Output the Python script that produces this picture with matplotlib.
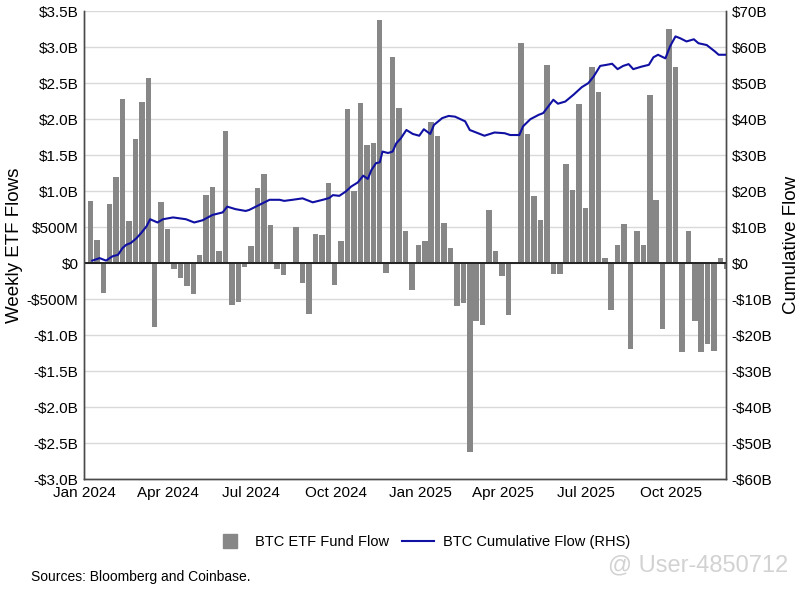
import matplotlib
matplotlib.use("Agg")
import matplotlib.pyplot as plt
import matplotlib.dates as mdates
from matplotlib.lines import Line2D
from matplotlib.ticker import FuncFormatter, MultipleLocator
import pandas as pd

plt.rcParams['font.family'] = ['Liberation Sans', 'DejaVu Sans']

# ---- data (billions USD) ----
first_week = "2024-01-08"
weekly_flows = [
    0.87, 0.32, -0.42, 0.82, 1.19, 2.28, 0.58, 1.72, 2.24, 2.57,
    -0.89, 0.85, 0.48, -0.08, -0.20, -0.32, -0.43, 0.11, 0.95, 1.06,
    0.17, 1.83, -0.58, -0.54, -0.05, 0.24, 1.05, 1.24, 0.53, -0.08,
    -0.17, 0.02, 0.50, -0.28, -0.70, 0.40, 0.39, 1.11, -0.30, 0.31,
    2.14, 1.00, 2.22, 1.64, 1.67, 3.38, -0.14, 2.86, 2.16, 0.45,
    -0.38, 0.25, 0.31, 1.96, 1.77, 0.56, 0.21, -0.59, -0.56, -2.62,
    -0.80, -0.86, 0.74, 0.17, -0.18, -0.72, 0.00, 3.06, 1.80, 0.93,
    0.60, 2.75, -0.15, -0.15, 1.38, 1.01, 2.21, 0.77, 2.72, 2.38,
    0.07, -0.65, 0.25, 0.55, -1.19, 0.44, 0.25, 2.34, 0.88, -0.91,
    3.25, 2.73, -1.23, 0.44, -0.81, -1.23, -1.13, -1.22, 0.07, -0.08,
]

cum_dates = [
    "2024-01-10", "2024-01-18", "2024-01-25", "2024-02-01", "2024-02-07",
    "2024-02-12", "2024-02-16", "2024-02-21", "2024-02-27", "2024-03-03",
    "2024-03-09", "2024-03-13", "2024-03-21", "2024-03-27", "2024-04-07",
    "2024-04-21", "2024-04-30", "2024-05-09", "2024-05-20", "2024-05-31",
    "2024-06-05", "2024-06-14", "2024-06-25", "2024-06-29", "2024-07-10",
    "2024-07-21", "2024-08-01", "2024-08-06", "2024-08-15", "2024-08-26",
    "2024-09-06", "2024-09-17", "2024-09-24", "2024-09-28", "2024-10-05",
    "2024-10-12", "2024-10-18", "2024-10-25", "2024-10-31", "2024-11-05",
    "2024-11-09", "2024-11-14", "2024-11-18", "2024-11-21", "2024-11-27",
    "2024-12-02", "2024-12-06", "2024-12-11", "2024-12-17", "2024-12-24",
    "2024-12-31", "2025-01-05", "2025-01-12", "2025-01-16", "2025-01-25",
    "2025-02-01", "2025-02-08", "2025-02-19", "2025-02-24", "2025-03-05",
    "2025-03-12", "2025-03-23", "2025-04-03", "2025-04-09", "2025-04-19",
    "2025-04-23", "2025-05-01", "2025-05-10", "2025-05-15", "2025-05-21",
    "2025-05-26", "2025-05-31", "2025-06-08", "2025-06-17", "2025-06-26",
    "2025-07-03", "2025-07-09", "2025-07-16", "2025-07-23", "2025-07-29",
    "2025-08-04", "2025-08-10", "2025-08-16", "2025-08-21", "2025-08-30",
    "2025-09-07", "2025-09-12", "2025-09-17", "2025-09-25", "2025-09-30",
    "2025-10-06", "2025-10-11", "2025-10-18", "2025-10-26", "2025-10-31",
    "2025-11-09", "2025-11-18", "2025-11-22", "2025-11-30",
]
cum_values = [
    0.7, 1.4, 0.7, 1.9, 2.3, 4.2, 5.1, 5.6, 6.9, 8.3,
    10.2, 12.2, 11.3, 12.2, 12.7, 12.2, 11.3, 11.9, 13.4, 14.1,
    15.7, 15.0, 14.5, 14.8, 16.2, 17.6, 17.6, 17.3, 17.6, 18.0,
    16.9, 17.6, 18.1, 18.9, 18.7, 19.9, 21.3, 22.4, 24.3, 23.4,
    25.9, 27.8, 28.0, 31.0, 30.6, 31.0, 33.3, 34.7, 37.0, 35.9,
    35.4, 37.2, 35.9, 38.4, 40.3, 40.9, 40.7, 39.4, 37.0, 36.1,
    35.4, 36.3, 36.1, 35.6, 35.6, 38.0, 40.0, 41.2, 41.7, 43.7,
    45.4, 44.3, 44.9, 46.8, 48.9, 50.0, 51.9, 54.8, 55.1, 55.4,
    53.9, 54.8, 55.3, 53.9, 54.6, 55.1, 57.2, 57.9, 56.9, 60.2,
    63.0, 62.5, 61.6, 62.2, 61.1, 60.6, 58.8, 57.9, 57.9,
]

x_ticks = ["2024-01-01", "2024-04-01", "2024-07-01", "2024-10-01",
           "2025-01-01", "2025-04-01", "2025-07-01", "2025-10-01"]
x_tick_labels = ["Jan 2024", "Apr 2024", "Jul 2024", "Oct 2024",
                 "Jan 2025", "Apr 2025", "Jul 2025", "Oct 2025"]

bar_label = "BTC ETF Fund Flow"
line_label = "BTC Cumulative Flow (RHS)"
source_text = "Sources: Bloomberg and Coinbase."

# ---- figure ----
bar_dates = pd.date_range(first_week, periods=len(weekly_flows), freq="7D")
line_dates = pd.to_datetime(cum_dates)

fig = plt.figure(figsize=(8.0, 5.9), dpi=100)
ax = fig.add_axes([0.105, 0.188, 0.8025, 0.793])
ax2 = ax.twinx()

bar_color = "#878787"
line_color = "#1010a3"
spine_color = "#4a4a4a"

ax.bar(bar_dates, weekly_flows, width=6.0, color=bar_color, zorder=2)
ax.axhline(0, color="#222222", lw=1.4, zorder=3)
ax2.plot(line_dates, cum_values, color=line_color, lw=1.5, zorder=4)

ax.set_ylim(-3.0, 3.5)
ax2.set_ylim(-60, 70)
ax.set_xlim(pd.Timestamp("2024-01-01"), pd.Timestamp("2025-11-30"))

ax.yaxis.set_major_locator(MultipleLocator(0.5))
ax2.yaxis.set_major_locator(MultipleLocator(10))


def left_fmt(v, pos):
    if abs(v) < 1e-9:
        return "$0"
    sign = "-" if v < 0 else ""
    a = abs(v)
    if a < 1:
        return f"{sign}${a*1000:.0f}M"
    return f"{sign}${a:.1f}B"


def right_fmt(v, pos):
    if abs(v) < 1e-9:
        return "$0"
    sign = "-" if v < 0 else ""
    return f"{sign}${abs(v):.0f}B"


ax.yaxis.set_major_formatter(FuncFormatter(left_fmt))
ax2.yaxis.set_major_formatter(FuncFormatter(right_fmt))

ax.set_xticks(pd.to_datetime(x_ticks))
ax.set_xticklabels(x_tick_labels)

ax.grid(axis="y", color="#d9d9d9", lw=1.0, zorder=0)
ax.set_axisbelow(True)

for a in (ax, ax2):
    a.tick_params(axis="both", length=0, labelsize=11, colors="black")
    a.spines["top"].set_visible(False)
    for s in ("left", "right", "bottom"):
        a.spines[s].set_color(spine_color)
        a.spines[s].set_linewidth(1.0)
ax.tick_params(axis="y", pad=4)
ax2.tick_params(axis="y", pad=4)
ax.tick_params(axis="x", pad=5)

ax.set_ylabel("Weekly ETF Flows", fontsize=13.5, labelpad=3)
ax2.set_ylabel("Cumulative Flow", fontsize=13.5, labelpad=8)

handles = [
    Line2D([0], [0], marker="s", linestyle="none", markersize=10,
           markerfacecolor=bar_color, markeredgecolor=bar_color),
    Line2D([0], [0], color=line_color, lw=1.5),
]
fig.legend(handles, [bar_label, line_label], loc="center",
           bbox_to_anchor=(0.528, 0.082), ncol=2, frameon=False,
           fontsize=10.5, handlelength=2.2, handletextpad=0.6,
           columnspacing=0.9)

fig.text(0.039, 0.022, source_text, fontsize=10, ha="left", va="center")
fig.text(0.985, 0.042, "@ User-4850712", fontsize=17, color="#d2d2d2",
         ha="right", va="center")

fig.savefig("out.png", dpi=100)
